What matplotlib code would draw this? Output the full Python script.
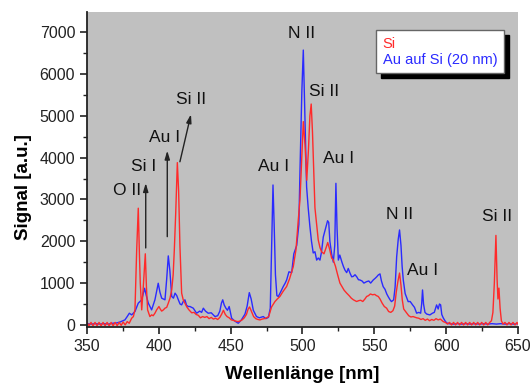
import matplotlib
matplotlib.use("Agg")
import matplotlib.pyplot as plt
from matplotlib.ticker import MultipleLocator

plt.rcParams["font.family"] = ["Liberation Sans", "DejaVu Sans"]

# --- spectrum of bare Si (red) ---
si_wl = [350, 351.4, 352.8, 354.2, 355.6, 357, 358.4, 359.8, 361.2, 362.6, 364, 365.4,
         366.8, 368.2, 369.6, 371, 372.4, 373.8, 375.2, 376.6, 378, 379.4, 381.1, 382.3,
         383.4, 384.6, 385.7, 386.5, 387.1, 388.1, 389.2, 390.6, 391.4, 392.2, 393.8,
         395, 396.1, 397.3, 398.5, 400.1, 401, 402, 403.2, 404.3, 405.5, 406.6, 407.8,
         409, 410, 410.8, 411.8, 412.9, 413.8, 414.7, 415.9, 417, 418.2, 419.5, 421,
         422.9, 424.5, 426, 427.5, 429, 430.5, 432, 433.5, 435, 436.5, 438, 439.5, 441,
         442.5, 443.8, 445, 446.3, 447.5, 449, 450.5, 451.8, 453.5, 455, 456.5, 458,
         459.5, 461, 462.2, 463.2, 464.5, 466, 467.5, 469, 470.4, 472, 473.5, 475, 476.5,
         478.5, 480.9, 482.5, 484.3, 486.5, 489, 491, 493.6, 495.5, 497.1, 498.3, 499.4,
         500.6, 501.8, 503, 504.2, 505.2, 506.1, 507, 508.7, 510, 511, 512.2, 513.3,
         515, 516.5, 517.6, 519, 520.3, 521.5, 523, 524.5, 526.1, 527.5, 529, 530.8,
         532.5, 534, 535.5, 537.7, 539.2, 540.5, 542, 543.5, 544.7, 546, 547.3, 548.8,
         550.3, 551.5, 552.8, 554, 555.5, 557, 558.6, 560, 561.5, 563, 564.2, 565.3,
         566.5, 567.6, 568.6, 569.5, 570.5, 572.5, 574, 575.5, 577, 579.5, 581, 582.5,
         584, 585.5, 587, 588.5, 590, 591.5, 593, 594.5, 596, 598, 599.5, 601, 602.4,
         603.8, 605.2, 606.6, 608, 609.4, 610.8, 612.2, 613.6, 615, 616.4, 617.8, 619.2,
         620.6, 622, 623.4, 624.8, 626.2, 627.6, 629, 630.4, 631.6, 632.6, 633.6, 634.7,
         635.5, 636.1, 636.8, 637.6, 638.5, 639.6, 641, 642.4, 643.8, 645.2, 646.6, 648,
         649.4, 650]
si_sig = [60, -20, 60, -20, 60, -20, 60, -20, 60, -20, 60, -20,
          60, -20, 60, -20, 60, -10, 70, 0, 80, 40, 160, 200,
          360, 1790, 2790, 1700, 1000, 360, 910, 1700, 900, 360, 200,
          240, 220, 280, 360, 440, 380, 330, 360, 400, 420, 520, 640,
          840, 1200, 1790, 2700, 3880, 3200, 1900, 760, 600, 520, 430, 360,
          290, 300, 250, 230, 170, 200, 180, 200, 150, 180, 140, 160, 130,
          180, 260, 350, 250, 200, 170, 120, 110, 90, 80, 90, 120,
          170, 250, 380, 430, 320, 200, 150, 130, 120, 140, 150, 170, 200,
          430, 560, 620, 680, 800, 920, 1100, 1390, 1800, 2510, 3000, 3900,
          4860, 4300, 3460, 4200, 5000, 5280, 4600, 2800, 2350, 2030, 1850, 1750,
          1700, 1850, 1970, 1800, 1600, 1550, 1400, 1200, 1000, 920, 830, 760,
          700, 640, 600, 560, 580, 590, 560, 620, 680, 700, 740, 720,
          730, 700, 680, 620, 520, 440, 400, 320, 300, 340, 450, 780,
          1050, 1240, 950, 600, 380, 290, 220, 190, 200, 170, 160, 130,
          150, 110, 140, 100, 130, 110, 150, 120, 140, 80, 60, 20, 60,
          0, 60, 0, 60, 0, 60, 0, 60, 0, 60, 0, 60,
          0, 60, 0, 60, 0, 60, 0, 60, 100, 300, 1000, 2140,
          1100, 620, 880, 400, 100, 20, 60, 0, 60, 0, 60, 0,
          60, 20]

# --- spectrum of Au on Si, 20 nm (blue) ---
au_wl = [350, 353, 356, 359, 362, 365, 368, 371, 373, 375, 376.4, 378, 379.5, 381.1,
         383.4, 385.7, 388.1, 390.1, 391.3, 392.7, 395, 397.3, 399.6, 400.8, 402, 404.3,
         405.5, 406.6, 407.7, 409, 410.2, 411.3, 412.5, 413.6, 414.8, 415.9, 417, 418.2,
         419.3, 420.5, 421.7, 424, 426.3, 428.5, 429.8, 431, 432.5, 434.4, 436.5, 439.1,
         441, 442.5, 443.6, 444.5, 445.5, 446.7, 447.8, 449, 450.7, 453, 455.3, 457.5,
         460, 461.5, 463, 464.3, 465.8, 468, 470, 472.7, 474.5, 476.3, 477.6, 478.6,
         479.5, 480.3, 481.2, 482.2, 483.2, 485, 486.6, 488, 489, 490.6, 492.5, 494,
         496, 497.5, 498.3, 499.6, 500.6, 501.5, 502.9, 504, 505.2, 506.3, 507.5, 508.7,
         509.9, 511, 512.2, 513.3, 514.5, 516, 517.5, 518.3, 519.1, 520.3, 521.5, 522.5,
         523.3, 524.1, 525, 526, 527.5, 528.5, 529.6, 530.8, 531.9, 533.2, 534.3, 535.4,
         536.6, 537.8, 539, 540, 541.5, 542.8, 544.7, 546.2, 547.5, 549.3, 550.5, 551.7,
         552.8, 554, 555, 556.2, 557.5, 558.7, 559.7, 561, 562, 563.5, 564.5, 565.6,
         566.7, 567.6, 568.6, 569.4, 570.2, 571.5, 573.6, 575, 576.7, 578, 579.5, 581,
         582.3, 583, 583.6, 584.3, 585.3, 586.5, 588.7, 590.5, 591.8, 593.4, 594.5,
         595.4, 596.2, 597, 598, 599.2, 600.4, 602, 605, 608, 611, 614, 617, 620, 623,
         626, 629, 632, 635, 638, 641, 644, 647, 650]
au_sig = [30, 20, 30, 20, 30, 20, 40, 50, 70, 100, 120, 200, 280, 240,
          320, 520, 600, 876, 700, 520, 360, 600, 996, 780, 640, 600,
          1100, 1650, 1300, 680, 640, 760, 700, 600, 500, 480, 560, 600,
          470, 440, 440, 400, 280, 330, 300, 400, 330, 280, 290, 200,
          220, 330, 520, 600, 480, 400, 350, 440, 160, 90, 40, 120,
          260, 450, 772, 620, 350, 200, 170, 200, 150, 180, 400, 1900,
          3345, 2400, 1200, 700, 680, 800, 915, 1000, 1075, 1270, 1250, 1700,
          1900, 2400, 3700, 5600, 6570, 5300, 3300, 2800, 2350, 2000, 1720, 1750,
          1550, 1600, 1550, 1750, 2100, 2300, 2490, 2450, 2000, 1700, 1500, 1900,
          3385, 2300, 1550, 1670, 1500, 1400, 1310, 1250, 1350, 1230, 1150, 1160,
          1200, 1150, 1080, 1075, 1050, 1000, 1035, 1050, 1000, 1075, 1110, 1150,
          1194, 1220, 1050, 915, 850, 740, 676, 600, 557, 600, 900, 1630,
          2050, 2270, 1900, 1400, 1075, 750, 557, 560, 478, 420, 280, 300,
          280, 500, 836, 500, 300, 260, 239, 280, 300, 478, 380,
          500, 480, 250, 170, 100, 48, 30, 20, 30, 20, 30, 20, 30, 20,
          30, 20, 30, 20, 30, 20, 30, 20, 30]

legend_labels = ["Si", "Au auf Si (20 nm)"]

# line labels: (text, wavelength, signal)
peak_names = ["O II", "Si I", "Au I", "Si II", "Au I", "N II", "Si II", "Au I",
              "N II", "Au I", "Si II"]
peak_x = [377.8, 389.3, 404.3, 422.4, 480.2, 499.4, 515.0, 525.4, 567.5, 583.9, 635.7]
peak_y = [3225, 3775, 4470, 5380, 3775, 6975, 5590, 3990, 2630, 1310, 2580]

# arrows: (start wl, start signal, end wl, end signal)
arrow_from = [(390.9, 1840), (405.9, 2110), (414.7, 3900)]
arrow_to = [(390.9, 3390), (405.9, 4165), (422.4, 5035)]

fig = plt.figure(figsize=(5.32, 3.87), dpi=100)
ax = fig.add_axes([0.1635, 0.155, 0.81, 0.814])
ax.set_facecolor("#c0c0c0")

l_au, = ax.plot(au_wl, au_sig, color="#2a2aff", lw=1.0)
l_si, = ax.plot(si_wl, si_sig, color="#ff2a2a", lw=1.0)

for name, x, y in zip(peak_names, peak_x, peak_y):
   ax.text(x, y, name, ha="center", va="center", fontsize=12.5, color="#111111")

for (x0, y0), (x1, y1) in zip(arrow_from, arrow_to):
   ax.annotate("", xy=(x1, y1), xytext=(x0, y0),
               arrowprops=dict(arrowstyle="-|>,head_length=0.5,head_width=0.15",
                               color="#222222", lw=1.0, shrinkA=0, shrinkB=0))

ax.set_xlim(350, 650)
ax.set_ylim(-50, 7480)
ax.xaxis.set_major_locator(MultipleLocator(50))
ax.xaxis.set_minor_locator(MultipleLocator(25))
ax.yaxis.set_major_locator(MultipleLocator(1000))
ax.yaxis.set_minor_locator(MultipleLocator(500))
ax.tick_params(which="major", direction="out", length=5, width=1.2, labelsize=11.5,
               colors="#222222")
ax.tick_params(which="minor", direction="out", length=3, width=1.0, colors="#222222")

for s in ["top", "right"]:
   ax.spines[s].set_visible(False)
for s in ["left", "bottom"]:
   ax.spines[s].set_linewidth(1.3)
   ax.spines[s].set_color("#222222")

ax.set_xlabel("Wellenlänge [nm]", fontsize=13.5, fontweight="bold")
ax.set_ylabel("Signal [a.u.]", fontsize=13.5, fontweight="bold")
ax.xaxis.set_label_coords(0.5005, -0.124)
ax.yaxis.set_label_coords(-0.128, 0.444)

leg = ax.legend([l_si, l_au], legend_labels, loc="upper right",
                bbox_to_anchor=(0.9675, 0.943), fontsize=10.5, handlelength=0,
                handletextpad=0, borderpad=0.45, labelspacing=0.15, fancybox=False,
                framealpha=1, edgecolor="#666666", borderaxespad=0,
                shadow={"color": "black", "alpha": 1, "ox": 3.5, "oy": -3.5})
for txt, line in zip(leg.get_texts(), [l_si, l_au]):
   txt.set_color(line.get_color())
for h in leg.legend_handles:
   h.set_visible(False)

plt.savefig("out.png", dpi=100)
